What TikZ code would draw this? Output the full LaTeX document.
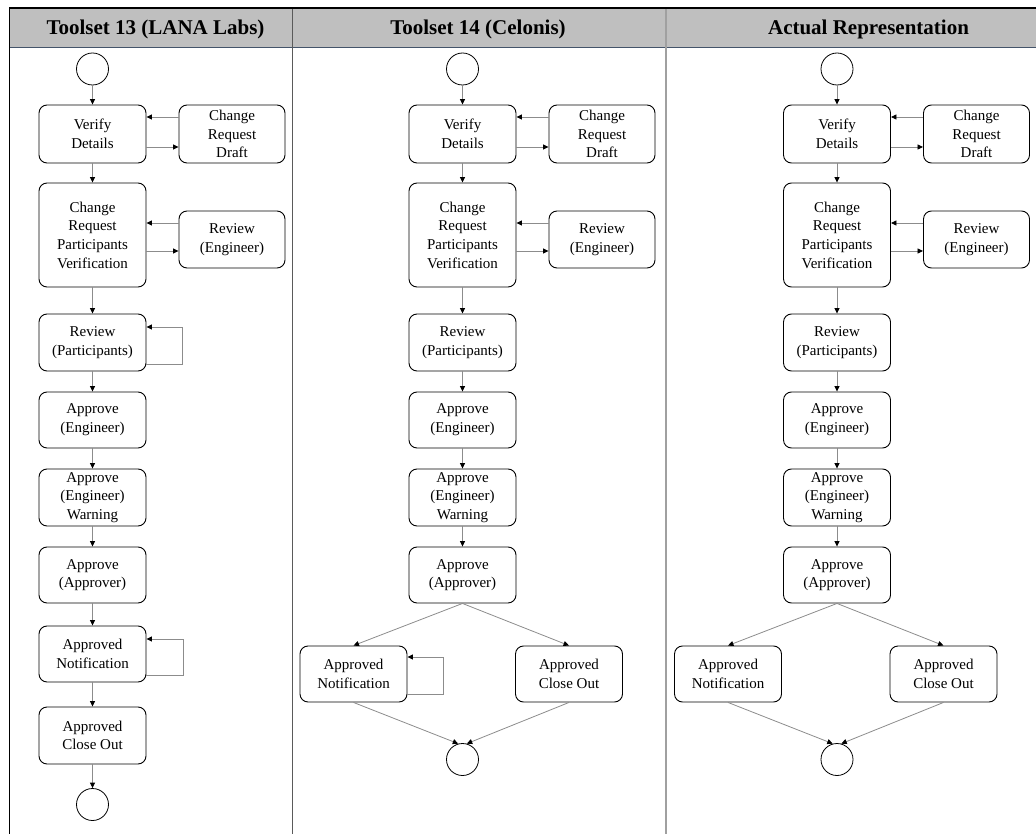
\documentclass[tikz,border=0pt]{standalone}
\usepackage{fontspec}
\setmainfont{Liberation Serif}
\usetikzlibrary{arrows.meta}

\definecolor{hdrfill}{HTML}{BFBFBF}
\definecolor{hdrrule}{HTML}{44546A}
\definecolor{connector}{HTML}{8C8C8C}
\definecolor{colrule}{HTML}{5A5A5A}
\definecolor{colrulelight}{HTML}{A0A0A0}

\tikzset{
  task/.style={draw=black, line width=0.9pt, rounded corners=8pt,
    minimum width=107pt, inner sep=0pt, align=center, fill=white,
    font=\fontsize{15pt}{18.7pt}\selectfont},
  event/.style={draw=black, line width=0.8pt, circle, minimum size=32pt, inner sep=0pt},
  conn/.style={draw=connector, line width=0.8pt,
    -{Triangle[length=5.5pt,width=5pt,color=black]}},
  hdr/.style={font=\fontsize{21pt}{25pt}\selectfont\bfseries, anchor=base},
}

% Part of the process that every column shares: start event down to Approve (Approver)
\newcommand\sharedflow{%
  \node[event] (s) at (92.5,69) {};
  \node[task, minimum height=58pt] (vd) at (92.5,134) {Verify\\Details};
  \node[task, minimum height=58pt, minimum width=106pt] (crd) at (232,134) {Change\\Request\\Draft};
  \node[task, minimum height=104pt] (crpv) at (92.5,235) {Change\\Request\\Participants\\Verification};
  \node[task, minimum height=57pt, minimum width=106pt] (re) at (232,239.5) {Review\\(Engineer)};
  \node[task, minimum height=57pt] (rp) at (92.5,342.5) {Review\\(Participants)};
  \node[task, minimum height=56pt] (ae) at (92.5,420) {Approve\\(Engineer)};
  \node[task, minimum height=57pt] (aew) at (92.5,497.5) {Approve\\(Engineer)\\Warning};
  \node[task, minimum height=56pt] (aa) at (92.5,575) {Approve\\(Approver)};
  \draw[conn] (s) -- (vd);
  \draw[conn] ([yshift=17pt]crd.west) -- ([yshift=17pt]vd.east);
  \draw[conn] ([yshift=-13pt]vd.east) -- ([yshift=-13pt]crd.west);
  \draw[conn] (vd) -- (crpv);
  \draw[conn] ([yshift=16.5pt]re.west) -- ([yshift=16.5pt]re.west -| crpv.east);
  \draw[conn] ([yshift=-11.5pt]re.west -| crpv.east) -- ([yshift=-11.5pt]re.west);
  \draw[conn] (crpv) -- (rp);
  \draw[conn] (rp) -- (ae);
  \draw[conn] (ae) -- (aew);
  \draw[conn] (aew) -- (aa);
}

% Branching end of the process: notification and close-out side by side
\newcommand\branchflow{%
  \node[task, minimum height=56pt] (an) at (-16.5,674) {Approved\\Notification};
  \node[task, minimum height=56pt] (aco) at (199,674) {Approved\\Close Out};
  \node[event] (e) at (92.5,759.5) {};
  \draw[conn] (aa.south) -- (an.north);
  \draw[conn] (aa.south) -- (aco.north);
  \draw[conn] (an.south) -- (e.105);
  \draw[conn] (aco.south) -- (e.75);
}

\begin{document}
\begin{tikzpicture}[x=1pt, y=-1pt]
  \useasboundingbox (0,0) rectangle (1036,834);

  % table frame and header row
  \fill[hdrfill] (9,8) rectangle (1036,47.5);
  \draw[hdrrule, line width=1.4pt] (9,47.5) -- (1036,47.5);
  \draw[colrule, line width=1pt] (292,8) -- (292,834);
  \draw[colrulelight, line width=1.2pt] (666,8) -- (666,834);
  \draw[black, line width=1.8pt] (9,8) -- (1036,8);
  \draw[black, line width=1.6pt] (9.5,7.2) -- (9.5,834);

  \node[hdr] (h1) at (155.5,35) {Toolset 13 (LANA Labs)};
  \node[hdr] (h2) at (478,35) {Toolset 14 (Celonis)};
  \node[hdr] (h3) at (868.5,35) {Actual Representation};

  % Toolset 13: a single chain with two self-loops
  \begin{scope}[name prefix=a-]
    \sharedflow
    \node[task, minimum height=56pt] (an) at (92.5,654) {Approved\\Notification};
    \node[task, minimum height=57pt] (aco) at (92.5,735.5) {Approved\\Close Out};
    \node[event] (e) at (92.5,804.5) {};
    \draw[conn] (aa) -- (an);
    \draw[conn] (an) -- (aco);
    \draw[conn] (aco) -- (e);
    \draw[conn] ([yshift=-21.5pt]rp.east) -- ++(36,0) |- ([yshift=15.5pt]rp.east);
    \draw[conn] ([yshift=-21pt]an.east) -- ++(37,0) |- ([yshift=15pt]an.east);
  \end{scope}

  % Toolset 14: branching end, notification loops on itself
  \begin{scope}[xshift=370pt, name prefix=b-]
    \sharedflow
    \branchflow
    \draw[conn] ([yshift=-20pt]an.east) -- ++(36,0) |- ([yshift=17pt]an.east);
  \end{scope}

  % Actual representation: branching end without loops
  \begin{scope}[xshift=744.5pt, name prefix=c-]
    \sharedflow
    \branchflow
  \end{scope}
\end{tikzpicture}
\end{document}
